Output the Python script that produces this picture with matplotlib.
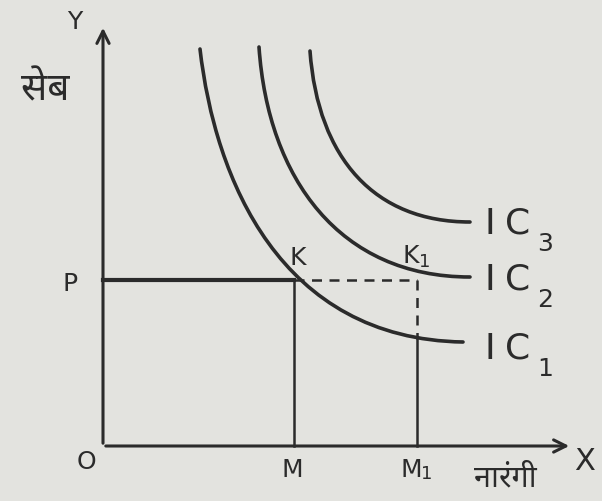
import matplotlib
matplotlib.use("Agg")
import matplotlib.pyplot as plt
from matplotlib.path import Path
from matplotlib.patches import PathPatch
from matplotlib import font_manager

ink = "#2b2b2b"
paper = "#e3e3df"

# everything is in picture pixels (x right, y down)
origin = (103, 447)
y_top = 26
x_end = 572

# indifference curves as cubic bezier control points
ic1 = [(200, 50), (215, 180), (280, 340), (463, 343)]
ic2 = [(259, 48), (268, 180), (340, 278), (470, 278)]
ic3 = [(310, 52), (318, 160), (375, 223), (470, 223)]
curve_names = ["3", "2", "1"]
label_y = [224, 280, 349]

# points K and K1
p_level = 281
m_x = 294
m1_x = 417
ic1_at_m1 = 340

fonts = [f.name for f in font_manager.fontManager.ttflist]
hindi = [f for f in ["Noto Sans Devanagari", "Lohit Devanagari", "Mangal", "FreeSans"] if f in fonts]
hindi_family = hindi + ["Noto Sans", "DejaVu Sans"]

fig = plt.figure(figsize=(6.02, 5.02), dpi=100, facecolor=paper)
ax = fig.add_axes([0, 0, 1, 1])
ax.set_xlim(0, 602)
ax.set_ylim(502, 0)
ax.axis("off")
ax.set_facecolor(paper)

# axes with arrows
ax.annotate("", xy=(origin[0], y_top), xytext=origin,
            arrowprops=dict(arrowstyle="->", color=ink, lw=2.2, mutation_scale=22))
ax.annotate("", xy=(x_end, origin[1]), xytext=origin,
            arrowprops=dict(arrowstyle="->", color=ink, lw=2.2, mutation_scale=22))

for pts in [ic1, ic2, ic3]:
    path = Path(pts, [Path.MOVETO, Path.CURVE4, Path.CURVE4, Path.CURVE4])
    ax.add_patch(PathPatch(path, fill=False, color=ink, lw=2.6, capstyle="round"))

# P line, K and K1 drop lines
ax.plot([origin[0], m_x], [p_level, p_level], color=ink, lw=3.0)
ax.plot([m_x, m1_x], [p_level, p_level], color=ink, lw=1.8, ls=(0, (4, 3)))
ax.plot([m_x, m_x], [p_level, origin[1]], color=ink, lw=1.8)
ax.plot([m1_x, m1_x], [p_level, ic1_at_m1], color=ink, lw=1.8, ls=(0, (4, 3)))
ax.plot([m1_x, m1_x], [ic1_at_m1, origin[1]], color=ink, lw=1.8)

txt = dict(color=ink, fontsize=18, ha="center", va="center")
ax.text(75, 22, "Y", **txt)
ax.text(585, 462, "X", fontsize=22, color=ink, ha="center", va="center")
ax.text(86, 462, "O", **txt)
ax.text(70, 284, "P", **txt)
ax.text(292, 470, "M", **txt)
ax.text(411, 470, "M", **txt)
ax.text(427, 474, "1", color=ink, fontsize=13, ha="center", va="center")
ax.text(298, 258, "K", **txt)
ax.text(411, 256, "K", **txt)
ax.text(425, 262, "1", color=ink, fontsize=13, ha="center", va="center")

for name, ly in zip(curve_names, label_y):
    ax.text(490, ly, "I", color=ink, fontsize=26, ha="center", va="center")
    ax.text(518, ly, "C", color=ink, fontsize=26, ha="center", va="center")
    ax.text(545, ly + 20, name, color=ink, fontsize=18, ha="center", va="center")

ax.text(45, 90, "सेब", color=ink, fontsize=28, ha="center", va="center", family=hindi_family)
ax.text(505, 478, "नारंगी", color=ink, fontsize=22, ha="center", va="center", family=hindi_family)

fig.savefig("out.png", dpi=100, facecolor=paper)
